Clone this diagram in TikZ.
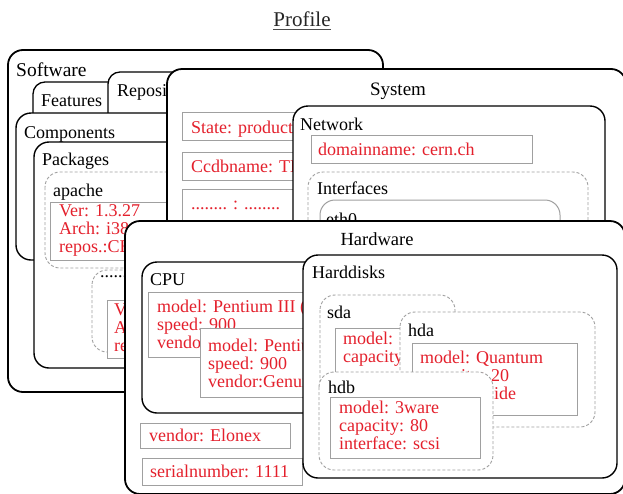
\documentclass[tikz,border=0pt]{standalone}
\usepackage{fontspec}
\setmainfont{Liberation Serif}
\definecolor{valred}{RGB}{228,32,44}
\definecolor{framegray}{RGB}{160,160,160}
\tikzset{
  bigbox/.style={draw=black, line width=1.8pt, fill=white, rounded corners=15pt},
  midbox/.style={draw=black, line width=1.4pt, fill=white, rounded corners=15pt},
  tabbox/.style={draw=black, line width=1.3pt, fill=white, rounded corners=12pt},
  dashbox/.style={draw=framegray, line width=0.9pt, dash pattern=on 3pt off 2pt, fill=white, rounded corners=15pt},
  valbox/.style={draw=framegray, line width=1pt, fill=white},
  ifbox/.style={draw=framegray, line width=1pt, fill=white, rounded corners=15pt},
  lab/.style={anchor=base west, inner sep=0pt, font=\fontsize{18}{18.5}\selectfont},
  biglab/.style={anchor=base, inner sep=0pt, font=\fontsize{19}{20}\selectfont},
  val/.style={anchor=base west, inner sep=0pt, text=valred, font=\fontsize{18}{18.3}\selectfont},
  titlelab/.style={anchor=base, inner sep=0pt, text=black!85, font=\fontsize{21}{22}\selectfont},
}
\begin{document}
\begin{tikzpicture}[x=1pt,y=-1pt]
\useasboundingbox (0,0) rectangle (623,493);
\fill[white] (0,0) rectangle (623,493);

% title
\node[titlelab] (title) at (302,26) {Profile};
\draw[black!70, line width=0.9pt] ([yshift=-3pt]title.base west) -- ([yshift=-3pt]title.base east);

% ---------------- Software ----------------
\draw[bigbox] (8,50) rectangle (383,392);
\node[lab, font=\fontsize{19.5}{20}\selectfont] (software) at (16,76) {Software};
\draw[tabbox] (33,82) rectangle (125,140);
\node[lab] (features) at (41,106) {Features};
\draw[tabbox] (108,72) rectangle (200,140);
\node[lab] (repos) at (117,96) {Repositories};
\draw[midbox] (16,113) rectangle (250,260);
\node[lab] (components) at (24,138) {Components};
\draw[midbox] (34,142) rectangle (300,368);
\node[lab] (packages) at (42,165) {Packages};
\draw[dashbox] (45,172) rectangle (230,268);
\node[lab] (apache) at (53,196) {apache};
\draw[valbox] (50,202) rectangle (200,260);
\node[val] (apacheA) at (59,216) {Ver: 1.3.27};
\node[val] (apacheB) at (59,234) {Arch: i386};
\node[val] (apacheC) at (59,252) {repos.:CERN};
\draw[dashbox] (92,270) rectangle (250,352);
\node[lab] (pkgdots) at (100,277) {........};
\draw[valbox] (107,300) rectangle (230,358);
\node[val] (pkgA) at (114,315) {Ver};
\node[val] (pkgB) at (114,333) {Arch};
\node[val] (pkgC) at (114,351) {repos};

% ---------------- System ----------------
\draw[bigbox] (167,69) rectangle (626,300);
\node[biglab] (system) at (398,95) {System};
\draw[valbox] (182,112) rectangle (300,140);
\node[val] (state) at (191,133) {State: product};
\draw[valbox] (182,152) rectangle (300,180);
\node[val] (ccdb) at (191,172) {Ccdbname: TEST};
\draw[valbox] (182,189) rectangle (300,228);
\node[val] (sysdots) at (191,209) {........ : ........};
\draw[midbox] (293,106) rectangle (605,300);
\node[lab] (network) at (300,130) {Network};
\draw[valbox] (311,135) rectangle (532,163);
\node[val] (domain) at (318,155) {domainname: cern.ch};
\draw[dashbox] (308,172) rectangle (588,300);
\node[lab] (interfaces) at (317,194) {Interfaces};
\draw[ifbox] (320,200) rectangle (560,300);
\node[lab] (eth) at (326,225) {eth0};

% ---------------- Hardware ----------------
\draw[bigbox] (125,221) rectangle (625,494);
\node[biglab, font=\fontsize{18.5}{20}\selectfont] (hardware) at (377,245) {Hardware};
\draw[midbox] (142,262) rectangle (330,413);
\node[lab] (cpu) at (150,285) {CPU};
\draw[valbox] (148,292) rectangle (320,357);
\node[val] (cpuoneA) at (157,312) {model: Pentium III (C};
\node[val] (cpuoneB) at (157,330) {speed: 900};
\node[val] (cpuoneC) at (157,348) {vendor};
\draw[valbox] (200,328) rectangle (320,397);
\node[val] (cputwoA) at (208,351) {model: Pentium};
\node[val] (cputwoB) at (208,369) {speed: 900};
\node[val] (cputwoC) at (208,387) {vendor:Genuine};
\draw[valbox] (140,423) rectangle (290,448);
\node[val] (vendor) at (149,441) {vendor: Elonex};
\draw[valbox] (142,458) rectangle (302,485);
\node[val] (serial) at (150,477) {serialnumber: 1111};

\draw[midbox] (303,255) rectangle (617,478);
\node[lab] (harddisks) at (312,278) {Harddisks};
% sda
\draw[dashbox] (320,295) rectangle (455,400);
\node[lab] (sda) at (327,318) {sda};
\draw[valbox] (335,328) rectangle (450,400);
\node[val] (sdaA) at (343,344) {model: 3};
\node[val] (sdaB) at (343,362) {capacity:};
% hda
\draw[dashbox] (400,312) rectangle (595,427);
\node[lab] (hda) at (408,336) {hda};
\draw[valbox] (412,343) rectangle (577,415);
\node[val] (hdaA) at (420,363) {model: Quantum};
\node[val] (hdaB) at (420,381) {capacity: 20};
\node[val] (hdaC) at (420,399) {interface: ide};
% hdb
\draw[dashbox] (319,372) rectangle (493,470);
\node[lab] (hdb) at (328,393) {hdb};
\draw[valbox] (330,397) rectangle (480,458);
\node[val] (hdbA) at (339,413) {model: 3ware};
\node[val] (hdbB) at (339,431) {capacity: 80};
\node[val] (hdbC) at (339,449) {interface: scsi};
\end{tikzpicture}
\end{document}
